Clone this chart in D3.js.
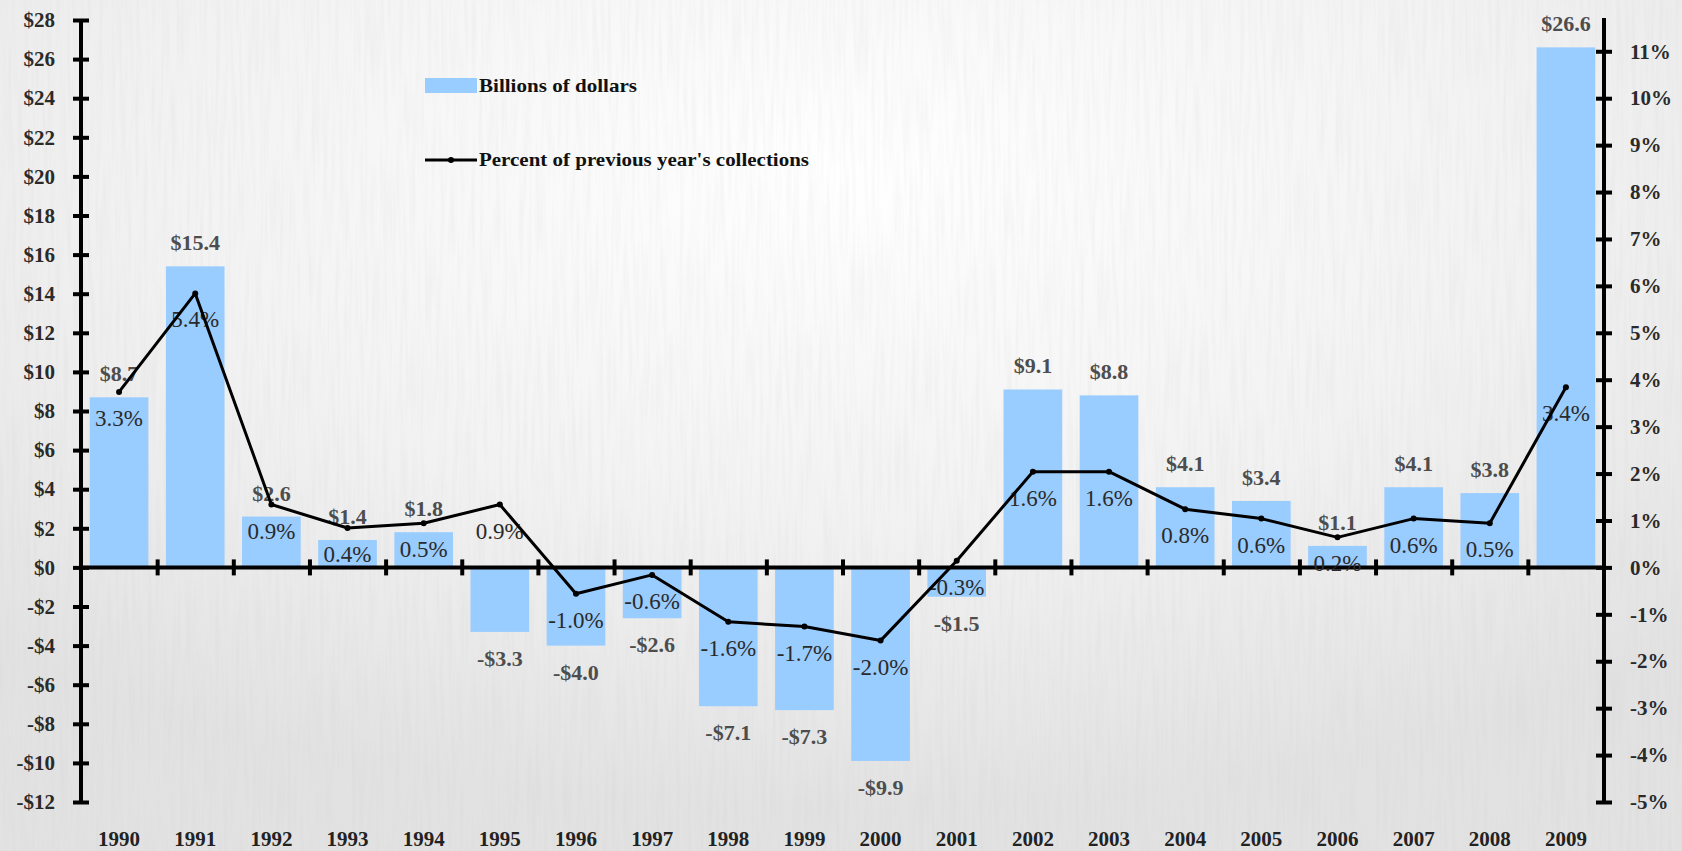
<!DOCTYPE html>
<html>
<head>
<meta charset="utf-8">
<script src="https://cdn.jsdelivr.net/npm/d3@7"></script>
<style>
	html, body { margin: 0; padding: 0; background: #eeeeee; }
	svg { display: block; }
	text { font-family: "Liberation Serif", "Times New Roman", serif; }
</style>
</head>
<body>
<div id="chart"></div>
<script>
// values
var years = ['1990', '1991', '1992', '1993', '1994', '1995', '1996', '1997', '1998', '1999',
	'2000', '2001', '2002', '2003', '2004', '2005', '2006', '2007', '2008', '2009'];
var billions = [8.7, 15.4, 2.6, 1.4, 1.8, -3.3, -4.0, -2.6, -7.1, -7.3,
	-9.9, -1.5, 9.1, 8.8, 4.1, 3.4, 1.1, 4.1, 3.8, 26.6];
var percents = [3.3, 5.4, 0.9, 0.4, 0.5, 0.9, -1.0, -0.6, -1.6, -1.7,
	-2.0, -0.3, 1.6, 1.6, 0.8, 0.6, 0.2, 0.6, 0.5, 3.4];
var dollarTicks = d3.range(-12, 29, 2);
var percentTicks = d3.range(-5, 12, 1);
var legendLabels = ['Billions of dollars', "Percent of previous year's collections"];

var width = 1682, height = 851;
var plotLeft = 81, plotRight = 1604, plotTop = 20, plotBottom = 802;

var svg = d3.select('#chart').append('svg').attr('width', width).attr('height', height);
var defs = svg.append('defs');

// paper-like background
var bg = defs.append('radialGradient').attr('id', 'bg-grad')
	.attr('cx', '50%').attr('cy', '20%').attr('r', '75%');
bg.append('stop').attr('offset', '0%').attr('stop-color', '#ffffff');
bg.append('stop').attr('offset', '55%').attr('stop-color', '#f2f2f2');
bg.append('stop').attr('offset', '100%').attr('stop-color', '#e2e2e2');

var noise = defs.append('filter').attr('id', 'streaks').attr('x', 0).attr('y', 0).attr('width', '100%').attr('height', '100%');
noise.append('feTurbulence').attr('type', 'fractalNoise').attr('baseFrequency', '0.25 0.012').attr('numOctaves', 2).attr('seed', 3);
noise.append('feColorMatrix').attr('type', 'matrix')
	.attr('values', '0 0 0 0 0.55  0 0 0 0 0.55  0 0 0 0 0.55  0 0 0 -0.9 0.55');

svg.append('rect').attr('width', width).attr('height', height).style('fill', 'url(#bg-grad)');
svg.append('rect').attr('width', width).attr('height', height).attr('filter', 'url(#streaks)').style('opacity', 0.3);

// scales
var x = d3.scaleBand().domain(years).range([plotLeft, plotRight]).paddingInner(0.23).paddingOuter(0.115);
var xEdge = d3.scaleLinear().domain([0, years.length]).range([plotLeft, plotRight]);
var yL = d3.scaleLinear().domain([-12, 28]).range([plotBottom, plotTop]);
var yR = d3.scaleLinear().domain([-5, 5 * 40 / 12 - 5]).range([plotBottom, plotTop]);
// the line in the source sits a little above its own axis
var lineShift = 0.44;
var yLine = d3.scaleLinear().domain(yR.domain().map(function (d) { return d - lineShift; })).range([plotBottom, plotTop]);

// bars
svg.append('g').selectAll('rect')
	.data(billions)
	.enter()
	.append('rect')
	.attr('x', function (d, i) { return x(years[i]); })
	.attr('width', x.bandwidth())
	.attr('y', function (d) { return yL(Math.max(0, d)); })
	.attr('height', function (d) { return Math.abs(yL(d) - yL(0)); })
	.style('fill', '#99ccff');

// left axis
var axisL = svg.append('g').attr('transform', 'translate(' + plotLeft + ',0)')
	.call(d3.axisLeft(yL).tickValues(dollarTicks).tickSize(8).tickPadding(18)
		.tickFormat(function (d) { return (d < 0 ? '-$' : '$') + Math.abs(d); }));
// right axis
var axisR = svg.append('g').attr('transform', 'translate(' + plotRight + ',0)')
	.call(d3.axisRight(yR).tickValues(percentTicks).tickSize(8).tickPadding(18)
		.tickFormat(function (d) { return d + '%'; }));

[axisL, axisR].forEach(function (ax) {
	ax.select('.domain').remove();
	ax.selectAll('.tick line').attr('x1', -8).attr('x2', 8).attr('stroke', '#000').attr('stroke-width', 4);
	ax.selectAll('.tick text').style('font-size', '21px').style('font-weight', 'bold').attr('fill', '#2a2a2a');
});
svg.append('line').attr('x1', plotLeft).attr('x2', plotLeft).attr('y1', plotTop).attr('y2', plotBottom)
	.attr('stroke', '#000').attr('stroke-width', 4);
svg.append('line').attr('x1', plotRight).attr('x2', plotRight).attr('y1', plotTop - 2).attr('y2', plotBottom)
	.attr('stroke', '#000').attr('stroke-width', 4);

// zero line with category ticks
var axisX = svg.append('g').attr('transform', 'translate(0,' + yL(0) + ')')
	.call(d3.axisBottom(xEdge).tickValues(d3.range(1, years.length)).tickSize(8).tickFormat(''));
axisX.select('.domain').remove();
axisX.selectAll('.tick line').attr('y1', -8).attr('y2', 8).attr('stroke', '#000').attr('stroke-width', 4);
svg.append('line').attr('x1', plotLeft).attr('x2', plotRight).attr('y1', yL(0)).attr('y2', yL(0))
	.attr('stroke', '#000').attr('stroke-width', 4);

// year labels along the bottom
var axisYears = svg.append('g').attr('transform', 'translate(0,' + (plotBottom + 29) + ')')
	.call(d3.axisBottom(x).tickSize(0).tickPadding(0));
axisYears.select('.domain').remove();
axisYears.selectAll('.tick text').style('font-size', '21px').style('font-weight', 'bold').attr('fill', '#222');

// dollar labels
svg.append('g').selectAll('text')
	.data(billions)
	.enter()
	.append('text')
	.attr('x', function (d, i) { return x(years[i]) + x.bandwidth() / 2; })
	.attr('y', function (d) { return d >= 0 ? yL(d) - 16 : yL(d) + 34; })
	.attr('text-anchor', 'middle')
	.style('font-size', '22px')
	.style('font-weight', 'bold')
	.style('fill', '#4d4d4d')
	.text(function (d) { return (d < 0 ? '-$' : '$') + Math.abs(d).toFixed(1); });

// percent labels
svg.append('g').selectAll('text')
	.data(percents)
	.enter()
	.append('text')
	.attr('x', function (d, i) { return x(years[i]) + x.bandwidth() / 2; })
	.attr('y', function (d) { return yLine(d) + 34; })
	.attr('text-anchor', 'middle')
	.style('font-size', '23px')
	.style('fill', '#2a2a2a')
	.text(function (d) { return d.toFixed(1) + '%'; });

// percent line
var line = d3.line()
	.x(function (d, i) { return x(years[i]) + x.bandwidth() / 2; })
	.y(function (d) { return yLine(d); });
svg.append('path').datum(percents).attr('d', line)
	.attr('fill', 'none').attr('stroke', '#000').attr('stroke-width', 3).attr('stroke-linejoin', 'round');
svg.append('g').selectAll('circle')
	.data(percents)
	.enter()
	.append('circle')
	.attr('cx', function (d, i) { return x(years[i]) + x.bandwidth() / 2; })
	.attr('cy', function (d) { return yLine(d); })
	.attr('r', 3)
	.style('fill', '#000');

// legend
var legend = svg.append('g').attr('class', 'legend');
legend.append('rect').attr('x', 425).attr('y', 78).attr('width', 52).attr('height', 15).style('fill', '#99ccff');
legend.append('line').attr('x1', 425).attr('x2', 477).attr('y1', 160).attr('y2', 160)
	.attr('stroke', '#000').attr('stroke-width', 3);
legend.append('circle').attr('cx', 451).attr('cy', 160).attr('r', 3).style('fill', '#000');
legend.selectAll('text')
	.data(legendLabels)
	.enter()
	.append('text')
	.attr('x', 479)
	.attr('y', function (d, i) { return i === 0 ? 92 : 166; })
	.attr('textLength', function (d, i) { return i === 0 ? 158 : 330; })
	.attr('lengthAdjust', 'spacingAndGlyphs')
	.style('font-size', '19px')
	.style('font-weight', 'bold')
	.style('fill', '#111')
	.text(function (d) { return d; });
</script>
</body>
</html>
